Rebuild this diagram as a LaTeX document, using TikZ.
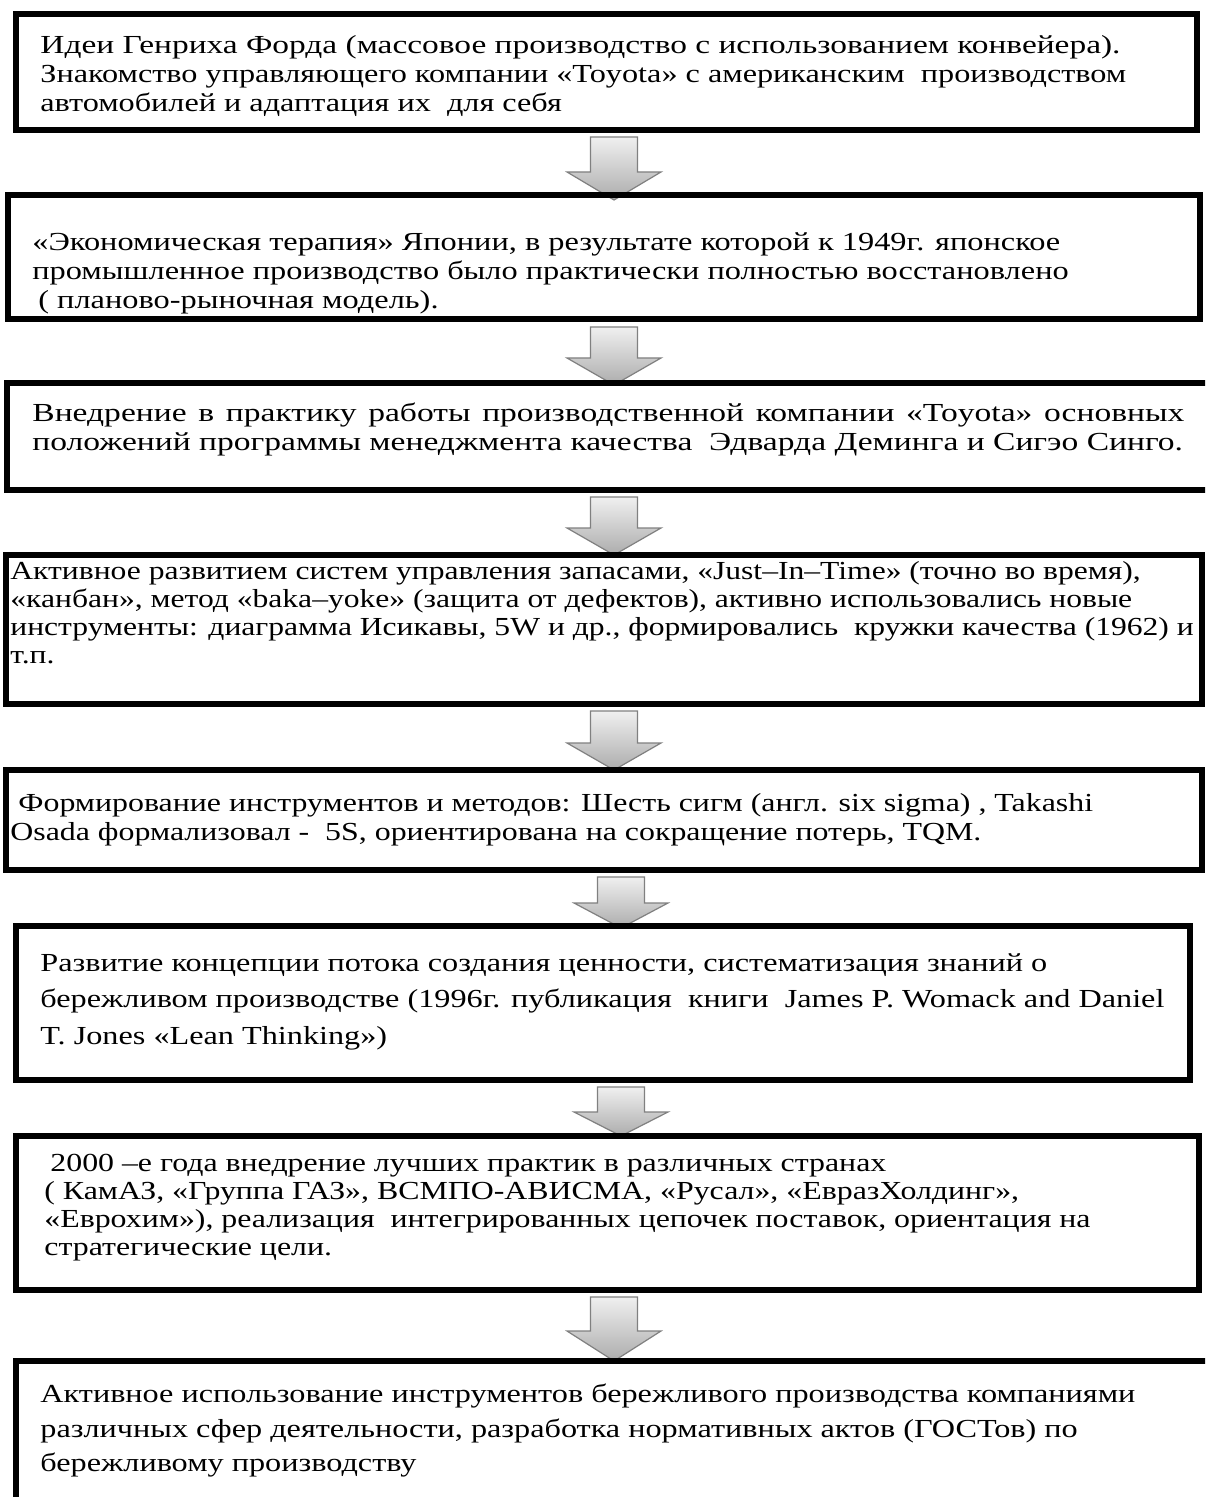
\documentclass[tikz,border=0pt]{standalone}
\usepackage{fontspec}
\setmainfont[FakeStretch=1.24]{Liberation Serif}
\newfontfamily\fontA[FakeStretch=1.24]{Liberation Serif}
\newfontfamily\fontAA[FakeStretch=1.285]{Liberation Serif}
\newfontfamily\fontB[FakeStretch=1.245]{Liberation Serif}
\newfontfamily\fontC[FakeStretch=1.29]{Liberation Serif}
\newfontfamily\fontD[FakeStretch=1.215]{Liberation Serif}
\newfontfamily\fontE[FakeStretch=1.226]{Liberation Serif}
\newfontfamily\fontF[FakeStretch=1.24]{Liberation Serif}
\newfontfamily\fontG[FakeStretch=1.225]{Liberation Serif}
\newfontfamily\fontH[FakeStretch=1.24]{Liberation Serif}
\usetikzlibrary{fit}
\newcommand\blockarrow[5]{%
  \coordinate (#1) at (#2,#3);
  \begin{scope}[shift={(#1)}]
    \path[arrowbody] (-23.5,0) -- (23.5,0) -- (23.5,#4-#5) -- (47,#4-#5) -- (0,#4)
      -- (-47,#4-#5) -- (-23.5,#4-#5) -- cycle;
  \end{scope}}
\begin{document}
\begin{tikzpicture}[x=0.5pt,y=-0.5pt,
  box/.style={draw=black, line width=3pt, inner sep=0pt},
  txt/.style 2 args={anchor=north west, inner sep=0pt, align=left,
    font={#1\fontsize{13}{#2}\selectfont}},
  arrowbody/.style={top color=gray!12, bottom color=gray!65, draw=gray, line width=0.6pt}]
\clip (0,0) rectangle (1205,1497);
\fill[white] (0,0) rectangle (1205,1497);

% texts
\node[txt={\fontA}{14.5}] (t1) at (40,33) {\strut{\fontAA Идеи Генриха Форда (массовое производство с использованием конвейера).}\\
Знакомство управляющего компании «Toyota» с американским\ \ производством\\
автомобилей и адаптация их\ \ для себя};

\node[txt={\fontB}{14.5}] (t2) at (32,230) {\strut «Экономическая терапия» Японии, в результате которой к 1949г. японское\\
промышленное производство было практически полностью восстановлено\\
\hspace*{3pt}( планово-рыночная модель).};

\node[txt={\fontC}{14.5}] (t3) at (32,401) {\strut\makebox[576pt][s]{Внедрение в практику работы производственной компании «Toyota» основных}\\
положений программы менеджмента качества\ \ Эдварда Деминга и Сигэо Синго.};

\node[txt={\fontD}{13.9}] (t4) at (10,560) {\strut Активное развитием систем управления запасами, «Just–In–Time» (точно во время),\\
«канбан», метод «baka–yoke» (защита от дефектов), активно использовались новые\\
инструменты: диаграмма Исикавы, 5W и др., формировались\ \ кружки качества (1962) и\\
т.п.};

\node[txt={\fontE}{14.5}] (t5) at (10,791) {\strut\hspace*{4pt}Формирование инструментов и методов: Шесть сигм (англ. six sigma) , Takashi\\
Osada формализовал -\ \ 5S, ориентирована на сокращение потерь, TQM.};

\node[txt={\fontF}{18.3}] (t6) at (40,945) {\strut Развитие концепции потока создания ценности, систематизация знаний о\\
бережливом производстве (1996г. публикация\ \ книги\ \ James P. Womack and Daniel\\
T. Jones «Lean Thinking»)};

\node[txt={\fontG}{13.9}] (t7) at (44,1152) {\strut\hspace*{3pt}2000 –е года внедрение лучших практик в различных странах\\
( КамАЗ, «Группа ГАЗ», ВСМПО-АВИСМА, «Русал», «ЕвразХолдинг»,\\
«Еврохим»), реализация\ \ интегрированных цепочек поставок, ориентация на\\
стратегические цели.};

\node[txt={\fontH}{17.3}] (t8) at (40,1378) {\strut Активное использование инструментов бережливого производства компаниями\\
различных сфер деятельности, разработка нормативных актов (ГОСТов) по\\
бережливому производству};

% arrows
\blockarrow{a1}{614}{137}{63}{28}
\blockarrow{a2}{614}{327}{58}{27}
\blockarrow{a3}{614}{497}{58}{27}
\blockarrow{a4}{614}{711}{59}{27}
\blockarrow{a5}{621}{877}{51}{25}
\blockarrow{a6}{621}{1087}{49}{24}
\blockarrow{a7}{614}{1297}{64}{30}

% boxes
\node[box, fit={(16,14) (1197,130)}] (b1) {};
\node[box, fit={(8,195) (1200,319)}] (b2) {};
\node[box, fit={(7,383) (1212,490)}] (b3) {};
\node[box, fit={(6,555) (1202,704)}] (b4) {};
\node[box, fit={(6,770) (1202,870)}] (b5) {};
\node[box, fit={(16,926) (1190,1080)}] (b6) {};
\node[box, fit={(16,1136) (1199,1290)}] (b7) {};
\node[box, fit={(16,1361) (1217,1517)}] (b8) {};
\end{tikzpicture}
\end{document}
